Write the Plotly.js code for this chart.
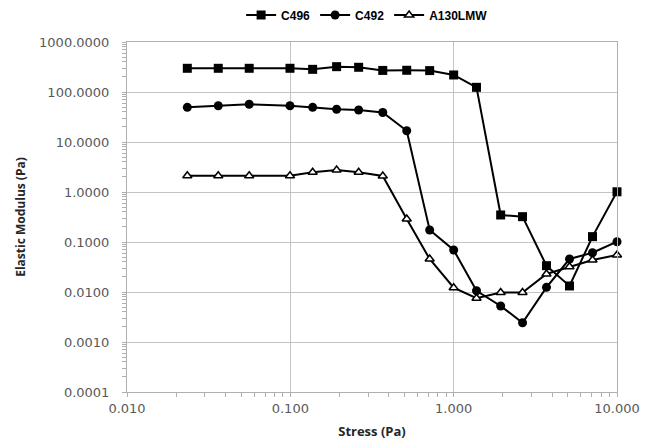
<!DOCTYPE html>
<html>
<head>
<meta charset="utf-8">
<script src="https://cdn.plot.ly/plotly-3.0.1.min.js"></script>
<style>html,body{margin:0;padding:0;background:#fff;}#chart{width:654px;height:442px;}</style>
</head>
<body>
<div id="chart"></div>
<script>
// Stress (Pa)
const stress = [0.0234, 0.0362, 0.0560, 0.0995, 0.137, 0.192, 0.262, 0.368, 0.516, 0.713, 1.00, 1.38, 1.94, 2.64, 3.70, 5.12, 7.08, 10.0];
// Elastic modulus (Pa)
const c496 = [298, 298, 298, 298, 284, 321, 312, 270, 272, 268, 219, 124, 0.347, 0.321, 0.0336, 0.0132, 0.128, 1.01];
const c492 = [49.4, 53.2, 56.8, 53.2, 49.4, 45.1, 43.7, 38.9, 16.8, 0.174, 0.0692, 0.0106, 0.00525, 0.00243, 0.0124, 0.0457, 0.0611, 0.101];
const a130 = [2.12, 2.12, 2.12, 2.12, 2.48, 2.75, 2.48, 2.09, 0.288, 0.0457, 0.0122, 0.0075, 0.0098, 0.0098, 0.0229, 0.0321, 0.0437, 0.055];
const seriesNames = ["C496", "C492", "A130LMW"];
const yTickVals = [0.0001, 0.001, 0.01, 0.1, 1, 10, 100, 1000];
const xTickVals = [0.01, 0.1, 1, 10];

const lineStyle = {color: '#000000', width: 2};
const traces = [
  {x: stress, y: c496, name: seriesNames[0], mode: 'lines+markers', line: lineStyle,
   marker: {symbol: 'square', size: 9, color: '#000000'}, cliponaxis: false},
  {x: stress, y: c492, name: seriesNames[1], mode: 'lines+markers', line: lineStyle,
   marker: {symbol: 'circle', size: 9, color: '#000000'}, cliponaxis: false},
  {x: stress, y: a130, name: seriesNames[2], mode: 'lines+markers', line: lineStyle,
   marker: {symbol: 'triangle-up', size: 8, color: '#ffffff', line: {color: '#000000', width: 1.5}}, cliponaxis: false}
];

const tickFont = {family: 'DejaVu Sans', size: 13, color: '#595959'};
const layout = {
  width: 654, height: 442,
  margin: {l: 127, r: 37, t: 42, b: 50, pad: 0, autoexpand: false},
  paper_bgcolor: '#ffffff', plot_bgcolor: '#ffffff',
  showlegend: true,
  legend: {orientation: 'h', x: 0.49, xanchor: 'center', y: 1.077, yanchor: 'middle',
           font: {family: 'Liberation Sans, Arial', size: 12, color: '#000000', weight: 'bold'},
           itemwidth: 30, tracegroupgap: 0},
  xaxis: {
    type: 'log', range: [-2, 1], autorange: false,
    tickvals: xTickVals, tickformat: '.3f', tickfont: tickFont,
    showgrid: true, gridcolor: '#c4c4c4', gridwidth: 1,
    showline: true, linecolor: '#b0b0b0', linewidth: 1, mirror: true,
    ticks: 'outside', ticklen: 4, tickcolor: '#b0b0b0',
    minor: {dtick: 'D1', ticks: 'outside', ticklen: 4, tickcolor: '#b0b0b0', showgrid: false},
    zeroline: false, automargin: false,
    title: {text: 'Stress (Pa)', font: {family: 'Open Sans', size: 13, color: '#262626', weight: 'bold'}, standoff: 12}
  },
  yaxis: {
    type: 'log', range: [-4, 3], autorange: false,
    tickvals: yTickVals, tickformat: '.4f', tickfont: tickFont,
    showgrid: true, gridcolor: '#c4c4c4', gridwidth: 1,
    showline: true, linecolor: '#b0b0b0', linewidth: 1, mirror: true,
    ticks: 'outside', ticklen: 4, tickcolor: '#b0b0b0',
    minor: {dtick: 'D1', ticks: 'outside', ticklen: 4, tickcolor: '#b0b0b0', showgrid: false},
    ticklabelstandoff: 10,
    zeroline: false, automargin: false,
    title: {text: 'Elastic Modulus (Pa)', font: {family: 'Open Sans', size: 12, color: '#262626', weight: 'bold'}, standoff: 10}
  }
};

Plotly.newPlot('chart', traces, layout, {staticPlot: true, displayModeBar: false});
</script>
</body>
</html>
